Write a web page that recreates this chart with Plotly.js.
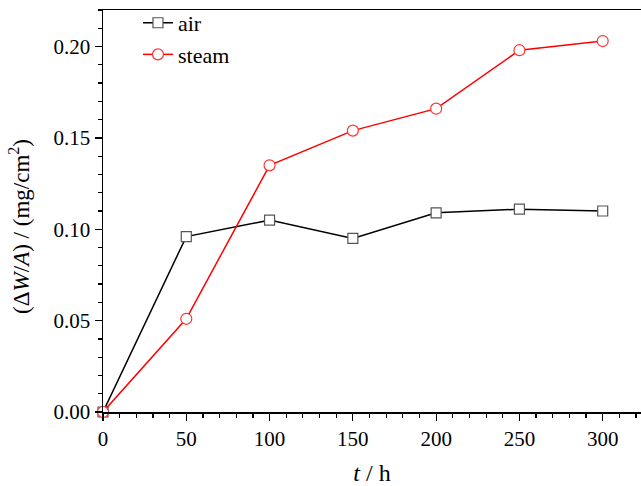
<!DOCTYPE html>
<html>
<head>
<meta charset="utf-8">
<script src="https://cdn.plot.ly/plotly-3.0.1.min.js"></script>
<style>html,body{margin:0;padding:0;background:#fff;}#chart{width:641px;height:486px;}
#chart text{font-family:"Liberation Serif","Times New Roman",serif !important;}</style>
</head>
<body>
<div id="chart"></div>
<script>
const time = [0, 50, 100, 150, 200, 250, 300];
const airGain = [0.000, 0.096, 0.105, 0.095, 0.109, 0.111, 0.110];
const steamGain = [0.000, 0.051, 0.135, 0.154, 0.166, 0.198, 0.203];
const seriesNames = ["air", "steam"];
const xTitle = "<i>t</i> / h";
const yTitle = "(Δ<i>W</i>/<i>A</i>) / (mg/cm<sup>2</sup>)";

const font = "Liberation Serif";

const traces = [
  {
    x: time, y: airGain, name: seriesNames[0], mode: "lines+markers", type: "scatter",
    line: {color: "#000000", width: 1.5},
    marker: {symbol: "square", size: 10, color: "#ffffff", line: {color: "#555555", width: 1.2}},
    cliponaxis: false
  },
  {
    x: time, y: steamGain, name: seriesNames[1], mode: "lines+markers", type: "scatter",
    line: {color: "#ff0000", width: 1.5},
    marker: {symbol: "circle", size: 11, color: "#ffffff", line: {color: "#ff3333", width: 1.2}},
    cliponaxis: false
  }
];

const layout = {
  width: 641, height: 486,
  margin: {l: 103, r: 0, t: 10, b: 74},
  paper_bgcolor: "#ffffff", plot_bgcolor: "#ffffff",
  font: {family: font, size: 21, color: "#000"},
  showlegend: true,
  legend: {x: 0.065, y: 1.02, xanchor: "left", yanchor: "top", bgcolor: "rgba(0,0,0,0)",
           font: {family: font, size: 22, color: "#000"}, tracegroupgap: 0},
  xaxis: {
    range: [0, 323], dtick: 50, tick0: 0,
    showgrid: false, zeroline: false,
    showline: true, linecolor: "#000", linewidth: 1.5, mirror: true,
    ticks: "outside", ticklen: 7, tickwidth: 1.2, tickcolor: "#000",
    minor: {dtick: 10, ticks: "outside", ticklen: 4, tickwidth: 1.2, tickcolor: "#000"},
    tickfont: {family: font, size: 21},
    title: {text: xTitle, font: {family: font, size: 24}, standoff: 14}
  },
  yaxis: {
    range: [0, 0.22], dtick: 0.05, tick0: 0, tickformat: ".2f",
    showgrid: false, zeroline: false,
    showline: true, linecolor: "#000", linewidth: 1.5, mirror: false,
    ticks: "outside", ticklen: 7, tickwidth: 1.2, tickcolor: "#000",
    minor: {dtick: 0.01, ticks: "outside", ticklen: 4, tickwidth: 1.2, tickcolor: "#000"},
    tickfont: {family: font, size: 21}
  },
  annotations: [{
    text: yTitle, textangle: -90, showarrow: false,
    xref: "paper", yref: "paper", x: -0.155, y: 0.462, xanchor: "center", yanchor: "middle",
    font: {family: font, size: 23, color: "#000"}
  }]
};

Plotly.newPlot("chart", traces, layout, {displayModeBar: false, staticPlot: true});
</script>
</body>
</html>
